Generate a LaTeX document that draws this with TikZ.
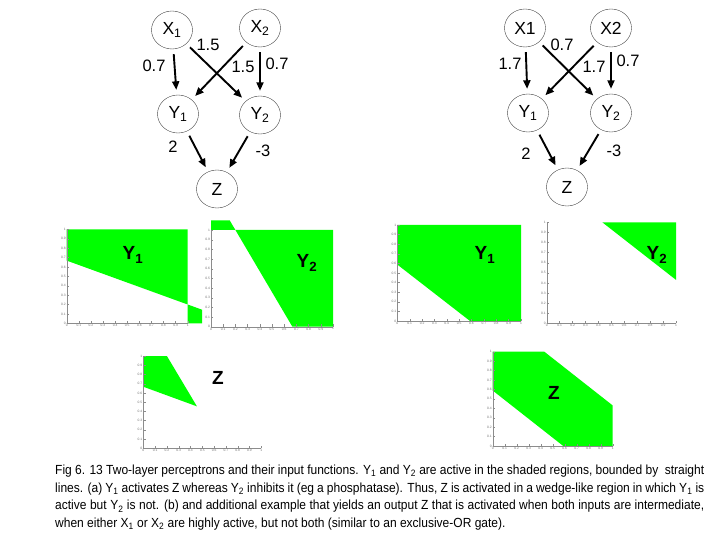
\documentclass[tikz,border=0pt]{standalone}
\usepackage{fontspec}
\setmainfont{Liberation Sans}
\newfontfamily\capfont{Liberation Sans}[FakeStretch=0.91]
\usetikzlibrary{arrows.meta,shapes.geometric}
\definecolor{act}{RGB}{0,255,0}
\newcommand{\ticklab}[1]{\ifnum#1=0 0\else\ifnum#1=10 1\else 0.#1\fi\fi}
\newcommand{\plotframe}[1]{%
  \draw[black!45,line width=0.3pt] (0,1) -- (0,0) -- (1,0);
  \foreach \i in {0,...,10}{%
    \draw[black!45,line width=0.3pt] (0,\i/10) -- ++(0.02,0) (\i/10,0) -- ++(0,0.025);
    \node[tk,left] (#1y\i) at (0,\i/10) {\ticklab{\i}};
    \node[tk,below] (#1x\i) at (\i/10,0) {\ticklab{\i}};
  }}
\begin{document}
\begin{tikzpicture}[x=1pt,y=-1pt,
  unit/.style={ellipse,draw=black!75,line width=0.4pt,minimum width=41pt,minimum height=38pt,inner sep=0pt,font=\fontsize{17.5}{17.5}\selectfont},
  w/.style={-{Triangle[length=8.5pt,width=7pt]},line width=1.9pt,shorten <=5pt,shorten >=5pt},
  lab/.style={font=\fontsize{16.5}{16.5}\selectfont,inner sep=0pt},
  plab/.style={font=\bfseries\fontsize{19}{19}\selectfont,inner sep=0pt},
  tk/.style={font=\fontsize{3.3}{3.3}\selectfont,text=black!55,inner sep=0.8pt}]
\useasboundingbox (0,0) rectangle (720,540);
\node[unit] (ax1) at (172,30) {X\textsubscript{1}};
\node[unit] (ax2) at (260,28) {X\textsubscript{2}};
\node[unit] (ay1) at (178,114) {Y\textsubscript{1}};
\node[unit] (ay2) at (260,115) {Y\textsubscript{2}};
\node[unit] (az) at (217,189) {Z};
\draw[w] (ax1) -- (ay1);
\draw[w] (ax1) -- (ay2);
\draw[w] (ax2) -- (ay1);
\draw[w] (ax2) -- (ay2);
\draw[w] (ay1) -- (az);
\draw[w] (ay2) -- (az);
\node[lab] (aw11) at (154,66) {0.7};
\node[lab] (aw12) at (208,45) {1.5};
\node[lab] (aw21) at (243,67) {1.5};
\node[lab] (aw22) at (277,64) {0.7};
\node[lab] (av1) at (173,147) {2};
\node[lab] (av2) at (263,151) {-3};
\node[unit] (bx1) at (525,28) {X1};
\node[unit] (bx2) at (611,28) {X2};
\node[unit] (by1) at (528,113) {Y\textsubscript{1}};
\node[unit] (by2) at (611,113) {Y\textsubscript{2}};
\node[unit] (bz) at (567,187) {Z};
\draw[w] (bx1) -- (by1);
\draw[w] (bx1) -- (by2);
\draw[w] (bx2) -- (by1);
\draw[w] (bx2) -- (by2);
\draw[w] (by1) -- (bz);
\draw[w] (by2) -- (bz);
\node[lab] (bw11) at (510,64) {1.7};
\node[lab] (bw12) at (562,45) {0.7};
\node[lab] (bw21) at (594,67) {1.7};
\node[lab] (bw22) at (628,61) {0.7};
\node[lab] (bv1) at (526,154) {2};
\node[lab] (bv2) at (614,151) {-3};
\begin{scope}[shift={(66.7,323.3)},x={(121pt,0pt)},y={(0pt,94pt)}]
  \fill[act] (0,1) -- (1,1) -- (1,0.2) -- (0,0.667) -- cycle;
  \fill[act] (1,0.2) -- (1.12,0.144) -- (1.12,0) -- (1,0) -- cycle;
  \plotframe{pa}
\end{scope}
\begin{scope}[shift={(211,326.7)},x={(122pt,0pt)},y={(0pt,96.7pt)}]
  \fill[act] (0.2,1) -- (1,1) -- (1,0) -- (0.667,0) -- cycle;
  \fill[act] (0,1) -- (0.2,1) -- (0.153,1.1) -- (0,1.1) -- cycle;
  \plotframe{pb}
\end{scope}
\begin{scope}[shift={(397.3,321)},x={(123.7pt,0pt)},y={(0pt,96pt)}]
  \fill[act] (0,1) -- (1,1) -- (1,0) -- (0.588,0) -- (0,0.588) -- cycle;
  \plotframe{pc}
\end{scope}
\begin{scope}[shift={(546.7,323.3)},x={(129.3pt,0pt)},y={(0pt,101pt)}]
  \fill[act] (0.43,1) -- (1,1) -- (1,0.43) -- cycle;
  \plotframe{pd}
\end{scope}
\begin{scope}[shift={(143.3,448.3)},x={(118pt,0pt)},y={(0pt,92.3pt)}]
  \fill[act] (0,1) -- (0.2,1) -- (0.4545,0.4545) -- (0,0.667) -- cycle;
  \plotframe{pe}
\end{scope}
\begin{scope}[shift={(492.7,446)},x={(120pt,0pt)},y={(0pt,94.3pt)}]
  \fill[act] (0,1) -- (0.43,1) -- (1,0.43) -- (1,0) -- (0.588,0) -- (0,0.588) -- cycle;
  \plotframe{pf}
\end{scope}
\node[plab] (ly1) at (133,255) {Y\textsubscript{1}};
\node[plab] (ly2) at (307,263) {Y\textsubscript{2}};
\node[plab] (ry1) at (485,255) {Y\textsubscript{1}};
\node[plab] (ry2) at (657,255) {Y\textsubscript{2}};
\node[plab] (lz) at (218,378) {Z};
\node[plab] (rz) at (554,393) {Z};
\node[anchor=north west,inner sep=0pt,text width=649pt,align=justify,font=\capfont\fontsize{13.2}{17.8}\selectfont] (cap) at (55,464.5)
  {Fig 6. 13 Two-layer perceptrons and their input functions. Y\textsubscript{1} and Y\textsubscript{2} are active in the shaded regions, bounded by \ straight\linebreak
   lines. (a) Y\textsubscript{1} activates Z whereas Y\textsubscript{2} inhibits it (eg a phosphatase). Thus, Z is activated in a wedge-like region in which Y\textsubscript{1} is\linebreak
   active but Y\textsubscript{2} is not. (b) and additional example that yields an output Z that is activated when both inputs are intermediate,\linebreak
   when either X\textsubscript{1} or X\textsubscript{2} are highly active, but not both (similar to an exclusive-OR gate).};
\end{tikzpicture}
\end{document}
